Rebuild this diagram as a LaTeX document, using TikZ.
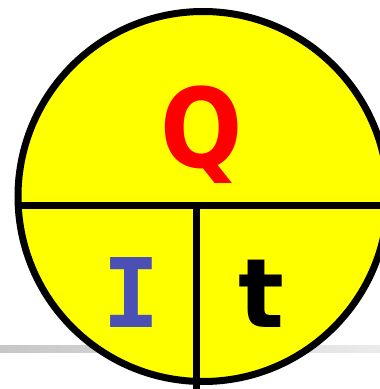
\documentclass[tikz,border=0pt]{standalone}
\usepackage{fontspec}
\setmainfont{DejaVu Sans}
\newfontfamily\monob{DejaVu Sans Mono}
\definecolor{disk}{RGB}{255,255,0}
\definecolor{iblue}{RGB}{75,80,180}
\begin{document}
\begin{tikzpicture}[x=1pt,y=-1pt,
  rule/.style={line width=7pt,draw=black},
  letter/.style={anchor=base,inner sep=0pt,font=\bfseries}]
\useasboundingbox (0,0) rectangle (380,389);
\shade[left color=black!22,right color=black!8] (0,345) rectangle (380,352);
\node[circle,fill=disk,draw=black,line width=7pt,minimum size=370pt,inner sep=0pt] (disk) at (203,196.5) {};
\coordinate (hl) at (0,205);
\coordinate (hr) at (400,205);
\coordinate (vt) at (196.5,205);
\coordinate (vb) at (196.5,389);
\begin{scope}
\clip (203,196.5) circle (185pt);
\draw[rule] (hl) -- (hr);
\end{scope}
\draw[rule] (vt) -- (vb);
\node[letter,text=red,xscale=0.88,font=\bfseries\fontsize{110}{110}\selectfont] (q) at (202,167) {Q};
\node[letter,text=iblue,font=\monob\bfseries\fontsize{96}{96}\selectfont] (i) at (131,327) {I};
\node[letter,text=black,font=\bfseries\fontsize{96}{96}\selectfont] (t) at (261.5,327) {t};
\end{tikzpicture}
\end{document}
